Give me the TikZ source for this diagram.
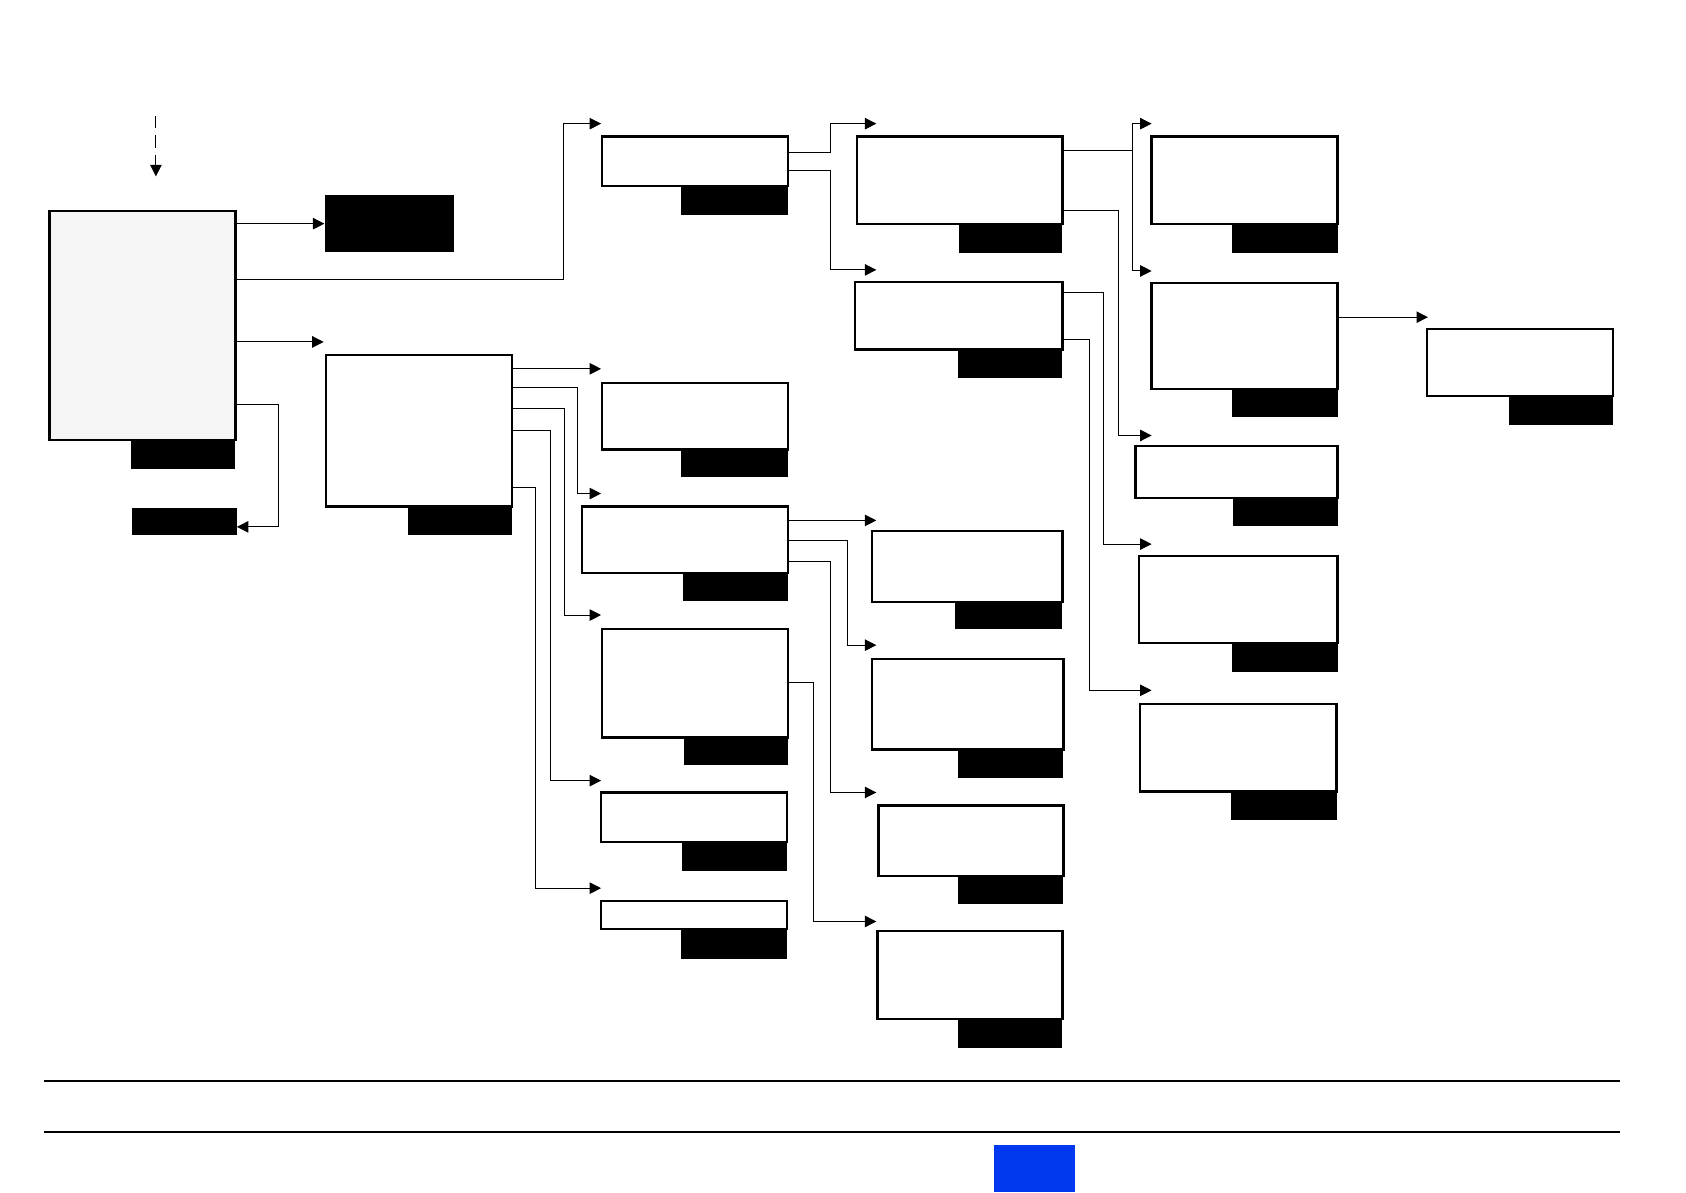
\documentclass[tikz,border=0pt]{standalone}
\usepackage{tikz}
\usetikzlibrary{arrows.meta,fit}

\begin{document}
\begin{tikzpicture}[
  x=0.0215cm, y=-0.0215cm,
  >={Triangle[length=6.5pt,width=6.5pt]},
  box/.style={draw, line width=1.3pt, fill=white, inner sep=0pt},
  tab/.style={fill=black, inner sep=0pt},
  link/.style={line width=0.55pt},
  rule/.style={line width=1.2pt}
]
\useasboundingbox (0,0) rectangle (1568,1109);

% root box and its two black blocks
\node[box, fill=black!4, fit={(46,196) (219,409)}] (root) {};
\node[tab, fit={(122,409) (219,436)}] (root-t) {};
\node[tab, fit={(302,181) (422,234)}] (hold) {};
\node[tab, fit={(123,472) (220,498)}] (back) {};

% all other boxes: name/x1/y1/x2/y2/tab x/tab bottom
\foreach \n/\xa/\ya/\xb/\yb/\tx/\ty in {
  mid/303/330/476/471/379/498,
  c2a/560/127/733/173/633/200, c2b/560/356/733/418/633/444,
  c2c/541/471/733/533/635/559, c2d/560/585/733/686/636/711,
  c2e/559/737/732/783/634/810, c2f/559/838/732/864/633/892,
  c3a/797/127/988/208/892/235, c3b/795/262/988/325/891/352,
  c3c/811/494/988/560/888/585, c3d/811/613/989/697/891/724,
  c3e/817/749/989/815/891/841, c3f/816/866/988/948/891/975,
  c4a/1071/127/1244/208/1146/235, c4b/1071/263/1244/362/1146/388,
  c4c/1056/415/1244/463/1147/489, c4d/1059/517/1244/598/1146/625,
  c4e/1060/655/1243/736/1145/763,
  c5a/1327/306/1500/368/1403/395} {
  \node[box, fit={(\xa,\ya) (\xb,\yb)}] (\n) {};
  \node[tab, fit={(\tx,\yb) (\xb,\ty)}] (\n-t) {};
}

% free arrow ends
\coordinate (in0) at (145,108);
\coordinate (in1) at (145,164);
\coordinate (toMid) at (301,318);
\foreach \n/\x/\y in {c2a/559/115, c2b/559/343, c2c/559/459, c2d/559/572,
  c2e/559/726, c2f/559/826, c3a/815/115, c3b/815/251, c3c/815/484,
  c3d/815/600, c3e/815/737, c3f/815/857, c4a/1071/115, c4b/1071/252,
  c4c/1071/405, c4d/1071/506, c4e/1071/642, c5a/1328/295}
  \coordinate (to-\n) at (\x,\y);

% input
\draw[link, dash pattern=on 7pt off 4pt, ->] (in0) -- (in1);

% from root
\draw[link, ->] (root.east |- 0,208) -- (hold.west |- 0,208);
\draw[link, ->] (root.east |- 0,260) -- (524,260) |- (to-c2a);
\draw[link, ->] (root.east |- 0,318) -- (toMid);
\draw[link, ->] (root.east |- 0,376) -- (259,376) |- (back.east |- 0,490);

% from mid
\draw[link, ->] (mid.east |- 0,343) -- (to-c2b);
\draw[link, ->] (mid.east |- 0,360) -- (537,360) |- (to-c2c);
\draw[link, ->] (mid.east |- 0,380) -- (525,380) |- (to-c2d);
\draw[link, ->] (mid.east |- 0,400) -- (512,400) |- (to-c2e);
\draw[link, ->] (mid.east |- 0,453) -- (498,453) |- (to-c2f);

% second column
\draw[link, ->] (c2a.east |- 0,142) -- (772,142) |- (to-c3a);
\draw[link, ->] (c2a.east |- 0,159) -- (772,159) |- (to-c3b);
\draw[link, ->] (c2c.east |- 0,484) -- (to-c3c);
\draw[link, ->] (c2c.east |- 0,503) -- (788,503) |- (to-c3d);
\draw[link, ->] (c2c.east |- 0,522) -- (772,522) |- (to-c3e);
\draw[link, ->] (c2d.east |- 0,635) -- (757,635) |- (to-c3f);

% third column
\draw[link, ->] (c3a.east |- 0,140) -- (1053,140) |- (to-c4a);
\draw[link, ->] (c3a.east |- 0,140) -- (1053,140) |- (to-c4b);
\draw[link, ->] (c3a.east |- 0,196) -- (1040,196) |- (to-c4c);
\draw[link, ->] (c3b.east |- 0,272) -- (1026,272) |- (to-c4d);
\draw[link, ->] (c3b.east |- 0,316) -- (1013,316) |- (to-c4e);

% fourth column
\draw[link, ->] (c4b.east |- 0,295) -- (to-c5a);

% footer
\draw[rule] (41,1005) -- (1507,1005);
\draw[rule] (41,1053) -- (1507,1053);
\fill[fill={rgb,255:red,0;green,56;blue,240}] (924,1065) rectangle (1000,1109);

\end{tikzpicture}
\end{document}
